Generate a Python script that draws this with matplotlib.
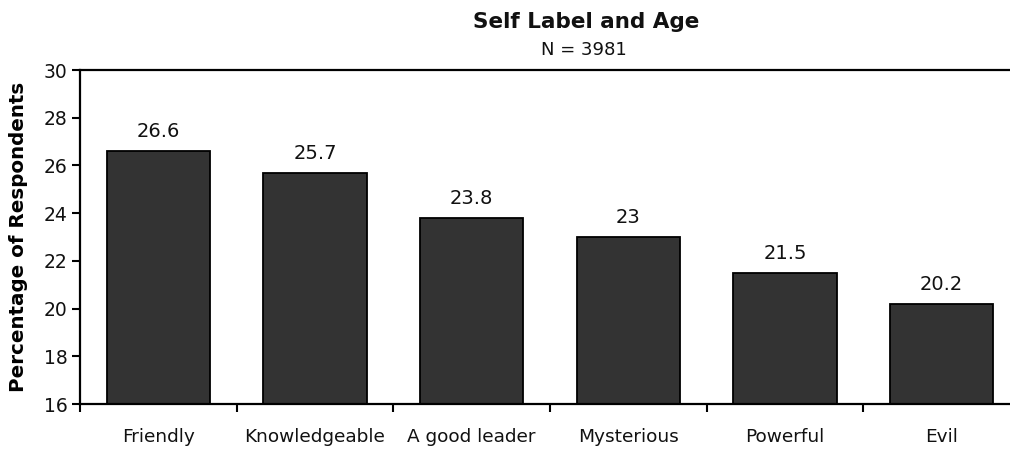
import matplotlib
matplotlib.use("Agg")
import matplotlib.pyplot as plt
import numpy as np

categories = ["Friendly", "Knowledgeable", "A good leader", "Mysterious", "Powerful", "Evil"]
values = [26.6, 25.7, 23.8, 23.0, 21.5, 20.2]
value_labels = ["26.6", "25.7", "23.8", "23", "21.5", "20.2"]
y_ticks = [16, 18, 20, 22, 24, 26, 28, 30]

plt.rcParams["font.family"] = ["DejaVu Sans"]

W, H = 1010, 449
fig = plt.figure(figsize=(W / 100, H / 100), dpi=100)
left, right, top, bottom = 80, 1020, 70, 404
ax = fig.add_axes([left / W, 1 - bottom / H, (right - left) / W, (bottom - top) / H])

x = np.arange(len(categories))
ax.bar(x, values, width=0.66, color="#333333", edgecolor="black", linewidth=1.3, zorder=2)

ax.set_xlim(-0.5, len(categories) - 0.5)
ax.set_ylim(16, 30)
ax.set_yticks(y_ticks)
ax.set_yticklabels([str(t) for t in y_ticks], fontsize=13.5, color="#111111")

ax.set_xticks(x)
ax.set_xticklabels(categories, fontsize=13.3, color="#111111")
ax.set_xticks(np.arange(len(categories) + 1) - 0.5, minor=True)
ax.tick_params(axis="x", which="major", length=0, pad=17)
ax.tick_params(axis="x", which="minor", length=6, width=1.5, direction="out")
ax.tick_params(axis="y", length=6, width=1.5, direction="out", pad=3)

for s in ["left", "bottom", "top", "right"]:
    ax.spines[s].set_linewidth(1.6)
    ax.spines[s].set_color("black")

for xi, v, lab in zip(x, values, value_labels):
    ax.annotate(lab, (xi, v), xytext=(0, 10), textcoords="offset points",
                ha="center", va="baseline", fontsize=14, color="#111111")

ax.set_ylabel("Percentage of Respondents", fontsize=14.3, fontweight="bold", labelpad=11)

fig.text(586 / W, 1 - 28 / H, "Self Label and Age", ha="center", va="baseline",
         fontsize=15.5, fontweight="bold", color="#111111")
fig.text(584 / W, 1 - 55 / H, "N = 3981", ha="center", va="baseline",
         fontsize=13, color="#111111")

fig.savefig("out.png", dpi=100)
